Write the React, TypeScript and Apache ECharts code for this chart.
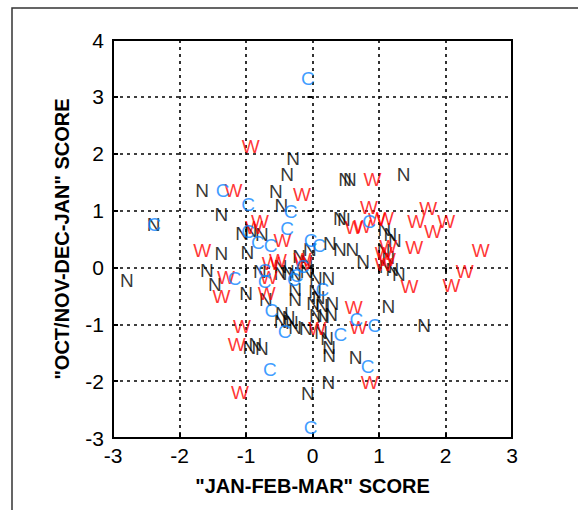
import React, { useEffect, useRef } from "react";
import * as echarts from "echarts";

const xTicks = [-3, -2, -1, 0, 1, 2, 3];
const yTicks = [-3, -2, -1, 0, 1, 2, 3, 4];

const nPoints: number[][] = [
  [-2.79, -0.23], [-2.39, 0.76], [-1.66, 1.35], [-1.37, 0.93], [-0.55, 1.34],
  [-0.47, 1.09], [-0.29, 1.92], [-0.38, 1.64], [0.49, 1.54], [0.56, 1.54],
  [1.37, 1.64], [0.41, 0.86], [0.47, 0.84], [-1.06, 0.6], [-0.93, 0.65],
  [-0.76, 0.58], [-1.37, 0.24], [-0.98, 0.26], [0.26, 0.42], [0.41, 0.31],
  [0.6, 0.31], [0.76, 0.1], [-0.04, 0.31], [-0.2, 0.19], [-0.09, 0.1],
  [-0.48, 0.02], [-1.59, -0.06], [-1.47, -0.3], [-1.0, -0.45], [-0.79, -0.08],
  [-0.48, -0.1], [-0.37, -0.07], [-0.26, -0.13], [-0.09, -0.07], [0.05, -0.2],
  [0.24, -0.2], [-0.26, -0.39], [0.04, -0.43], [0.09, -0.53], [-0.7, -0.57],
  [-0.46, -0.81], [-0.36, -0.88], [-0.31, -0.96], [-0.26, -0.57], [0.01, -0.64],
  [0.14, -0.67], [0.3, -0.64], [0.05, -0.84], [0.16, -0.86], [0.28, -0.83],
  [-0.48, -0.95], [-0.26, -1.06], [-0.1, -1.08], [0.13, -1.15], [0.22, -1.25],
  [0.25, -1.4], [0.25, -1.55], [-0.95, -1.4], [-0.86, -1.36], [-0.76, -1.42],
  [0.65, -1.58], [1.14, -0.69], [1.68, -1.03], [0.24, -2.03], [-0.07, -2.22],
  [1.08, 0.66], [1.17, 0.58], [1.24, 0.48], [1.07, 0.3], [1.1, 0.02],
  [1.2, -0.03], [1.3, -0.12], [1.14, 0.18],
];

const wPoints: number[][] = [
  [-0.93, 2.12], [-1.19, 1.35], [-0.16, 1.28], [0.9, 1.54], [0.85, 1.06],
  [1.74, 1.04], [1.09, 0.86], [0.97, 0.84], [0.62, 0.7], [0.75, 0.72],
  [1.56, 0.81], [2.01, 0.8], [1.81, 0.63], [1.53, 0.35], [2.53, 0.29],
  [2.29, -0.07], [2.09, -0.32], [1.46, -0.33], [1.14, 0.37], [1.07, 0.24],
  [1.12, 0.14], [1.07, 0.06], [-0.79, 0.8], [-0.88, 0.7], [-0.45, 0.48],
  [-1.66, 0.3], [-0.52, 0.12], [-0.14, 0.07], [-0.15, 0.14], [-1.3, -0.18],
  [-0.66, -0.17], [-1.37, -0.52], [-0.69, -0.45], [0.62, -0.7], [0.69, -1.06],
  [0.07, -1.08], [-1.06, -1.04], [-1.14, -1.35], [0.86, -2.02], [-1.09, -2.2],
  [-0.63, 0.07],
];

const cPoints: number[][] = [
  [-0.07, 3.33], [-1.35, 1.35], [-0.97, 1.11], [-0.33, 0.98], [-2.38, 0.76],
  [-0.38, 0.69], [-0.97, 0.64], [-0.82, 0.43], [-0.63, 0.39], [-0.03, 0.47],
  [0.1, 0.38], [0.85, 0.8], [-0.72, -0.05], [-0.72, -0.24], [-1.17, -0.2],
  [-0.24, -0.14], [-0.15, 0.02], [0.15, -0.38], [-0.62, -0.75], [-0.42, -1.12],
  [0.42, -1.18], [0.66, -0.91], [0.93, -1.02], [-0.64, -1.8], [0.83, -1.75],
  [-0.03, -2.82], [-0.28, -0.22],
];

const xTitle = '"JAN-FEB-MAR" SCORE';
const yTitle = '"OCT/NOV-DEC-JAN" SCORE';

const FONT = "'Liberation Sans', Arial, Helvetica, sans-serif";

function letterSeries(name: string, data: number[][], color: string) {
  return {
    name,
    type: "scatter",
    data,
    symbol: "circle",
    symbolSize: 1,
    itemStyle: { color: "rgba(0,0,0,0)" },
    label: {
      show: true,
      position: "inside",
      formatter: name,
      color,
      fontSize: 19,
      fontFamily: FONT,
      textBorderWidth: 0,
      textBorderColor: "transparent",
    },
    emphasis: { disabled: true },
  };
}

export default function App() {
  const ref = useRef<HTMLDivElement>(null);
  useEffect(() => {
    if (!ref.current) return;
    const chart = echarts.init(ref.current, null, { renderer: "svg" });
    const dotted = { type: [3, 4], color: "#000", width: 1.6 };
    chart.setOption({
      animation: false,
      backgroundColor: "#fff",
      grid: {
        left: 113,
        top: 40,
        width: 399,
        height: 398,
        show: true,
        borderColor: "#000",
        borderWidth: 2,
        backgroundColor: "transparent",
      },
      xAxis: [
        {
          type: "value",
          min: xTicks[0],
          max: xTicks[xTicks.length - 1],
          interval: 1,
          axisLine: { show: true, onZero: false, lineStyle: { color: "#000", width: 2 } },
          axisTick: { show: true, inside: true, length: 5, lineStyle: { color: "#000", width: 2 } },
          axisLabel: { color: "#000", fontSize: 21, fontFamily: FONT, margin: 7 },
          splitLine: { show: true, lineStyle: dotted },
          name: xTitle,
          nameLocation: "middle",
          nameGap: 38,
          nameTextStyle: { color: "#000", fontSize: 20, fontWeight: "bold", fontFamily: FONT },
        },
        {
          type: "value",
          position: "top",
          min: xTicks[0],
          max: xTicks[xTicks.length - 1],
          interval: 1,
          axisLine: { show: false },
          axisTick: { show: true, inside: true, length: 5, lineStyle: { color: "#000", width: 2 } },
          axisLabel: { show: false },
          splitLine: { show: false },
        },
      ],
      yAxis: [
        {
          type: "value",
          min: yTicks[0],
          max: yTicks[yTicks.length - 1],
          interval: 1,
          axisLine: { show: true, onZero: false, lineStyle: { color: "#000", width: 2 } },
          axisTick: { show: true, inside: true, length: 5, lineStyle: { color: "#000", width: 2 } },
          axisLabel: { color: "#000", fontSize: 21, fontFamily: FONT, margin: 9 },
          splitLine: { show: true, lineStyle: dotted },
          name: yTitle,
          nameLocation: "middle",
          nameGap: 41,
          nameTextStyle: { color: "#000", fontSize: 20, fontWeight: "bold", fontFamily: FONT },
        },
        {
          type: "value",
          position: "right",
          min: yTicks[0],
          max: yTicks[yTicks.length - 1],
          interval: 1,
          axisLine: { show: false },
          axisTick: { show: true, inside: true, length: 5, lineStyle: { color: "#000", width: 2 } },
          axisLabel: { show: false },
          splitLine: { show: false },
        },
      ],
      graphic: [
        {
          type: "rect",
          shape: { x: 12, y: 8, width: 700, height: 700 },
          style: { fill: "none", stroke: "#333", lineWidth: 1.5 },
          silent: true,
        },
      ],
      series: [
        letterSeries("N", nPoints, "#000000"),
        letterSeries("W", wPoints, "#ff0000"),
        letterSeries("C", cPoints, "#0a84ff"),
      ],
    });
    return () => chart.dispose();
  }, []);
  return (
    <div
      ref={ref}
      style={{ position: "absolute", left: 0, top: 0, width: 578, height: 510 }}
    />
  );
}
